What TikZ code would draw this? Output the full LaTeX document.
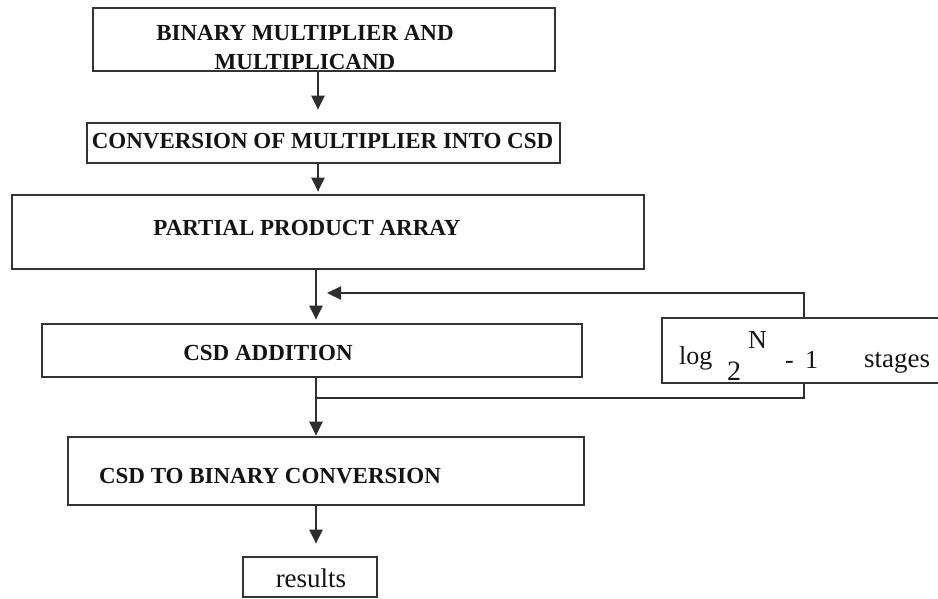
\documentclass[tikz,border=0pt]{standalone}
\usepackage{fontspec}
\setmainfont{Liberation Serif}
\usetikzlibrary{arrows.meta}
\begin{document}
\begin{tikzpicture}[x=1pt,y=-1pt,
  box/.style={draw=black!80, line width=2.7pt, inner sep=0pt, fill=white},
  lbl/.style={font=\fontsize{23}{29}\selectfont\bfseries, text=black!92, inner sep=0pt, anchor=base},
  rl/.style={font=\fontsize{26}{30}\selectfont, text=black!92, inner sep=0pt, anchor=base west},
  ln/.style={draw=black!82, line width=2.2pt},
  arr/.style={ln, -{Triangle[length=14pt,width=13pt]}}]
\useasboundingbox (0,0) rectangle (938,598);

% process boxes
\node[box, minimum width=462pt, minimum height=63pt] (b1) at (324,39.5) {};
\node[box, minimum width=473pt, minimum height=40pt] (b2) at (323.5,143) {};
\node[box, minimum width=632pt, minimum height=74pt] (b3) at (328,232) {};
\node[box, minimum width=540pt, minimum height=53pt] (b4) at (312,350.5) {};
\node[box, minimum width=290pt, minimum height=65pt] (lg) at (807,350.5) {};
\node[box, minimum width=516pt, minimum height=68pt] (b5) at (326,471) {};
\node[box, minimum width=134pt, minimum height=40pt] (res) at (310,577) {};

% box texts
\node[lbl, anchor=center, align=center] (t1) at (305,48) {BINARY MULTIPLIER AND\\MULTIPLICAND};
\node[lbl] (t2) at (322.5,148) {CONVERSION OF MULTIPLIER INTO CSD};
\node[lbl] (t3) at (307,235) {PARTIAL PRODUCT ARRAY};
\node[lbl] (t4) at (268,360) {CSD ADDITION};
\node[lbl] (t5) at (270,483) {CSD TO BINARY CONVERSION};
\node[rl, anchor=base, font=\fontsize{27}{30}\selectfont] (t6) at (311,587) {results};

% stage count
\node[rl] (lgA) at (679,364) {log};
\node[rl, font=\fontsize{28}{30}\selectfont] (lgB) at (727,380) {2};
\node[rl] (lgC) at (748,348) {N};
\node[rl] (lgD) at (785,368) {-};
\node[rl] (lgE) at (805,368) {1};
\node[rl, font=\fontsize{27}{30}\selectfont] (lgF) at (864,367) {stages};

% guide coordinates
\coordinate (cA) at (318,0);
\coordinate (cB) at (316,0);
\coordinate (fb) at (804,0);
\coordinate (top) at (0,293);
\coordinate (bot) at (0,398);

% main flow
\draw[arr, shorten >=12pt] (b1.south -| cA) -- (b2.north -| cA);
\draw[arr, shorten >=2pt] (b2.south -| cA) -- (b3.north -| cA);
\draw[arr, shorten >=3pt] (b3.south -| cB) -- (b4.north -| cB);
\draw[ln] (b4.south -| cB) -- (cB |- bot);
\draw[arr] (cB |- bot) -- (b5.north -| cB);
\draw[arr, shorten >=12pt] (b5.south -| cB) -- (res.north -| cB);

% feedback loop
\draw[arr, shorten >=11pt] (lg.north -| fb) |- (cB |- top);
\draw[ln] (cB |- bot) -| (lg.south -| fb);
\end{tikzpicture}
\end{document}
